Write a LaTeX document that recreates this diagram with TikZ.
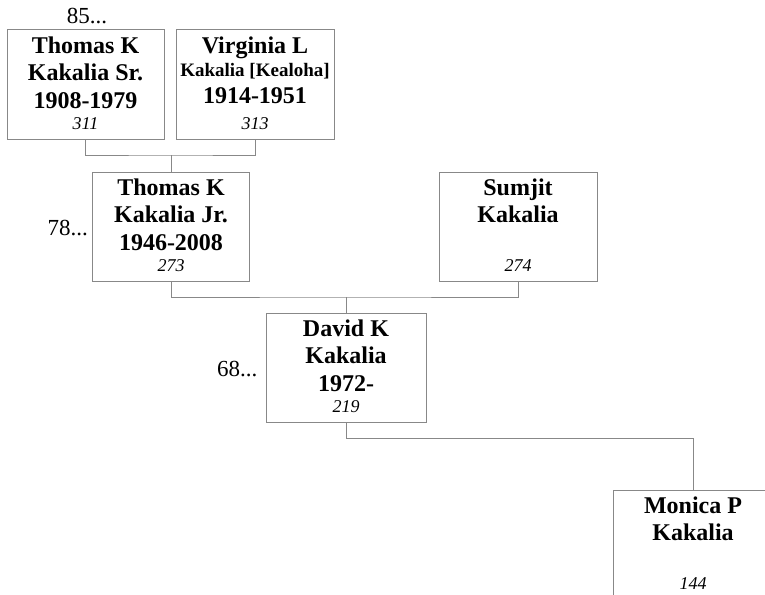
\documentclass[tikz,border=0pt]{standalone}
\usepackage{fontspec}
\setmainfont{Liberation Serif}
\definecolor{linegray}{RGB}{136,136,136}
\newcommand{\bigname}{\fontsize{24}{27.5}\selectfont\bfseries}
\newcommand{\smallname}{\fontsize{19}{23}\selectfont\bfseries}
\newcommand{\idnum}{\fontsize{18}{21}\selectfont\mdseries\itshape}
\newcommand{\cardtext}[2]{\parbox[c][109pt][t]{154pt}{\centering\leavevmode\rule{0pt}{23pt}#1\par\vfill{\idnum\leavevmode\rule[-10pt]{0pt}{10pt}#2\par}\kern0pt}}
\tikzset{
  person/.style={draw=linegray, line width=1pt, inner sep=0pt, fill=white,
    minimum width=158pt, minimum height=109pt},
  conn/.style={draw=linegray, line width=1pt},
  genlabel/.style={inner sep=0pt, font=\fontsize{23}{27}\selectfont}
}
\begin{document}
\begin{tikzpicture}[x=1pt,y=-1pt]
\useasboundingbox (0,0) rectangle (765,594);
\node[person, minimum width=157pt] (b1) at (85.5,84.5) {\cardtext{\bigname Thomas K\par Kakalia Sr.\par 1908-1979}{311}};
\node[person] (b2) at (255,84.5) {\cardtext{\bigname Virginia L\par\smallname Kakalia [Kealoha]\par\bigname 1914-1951}{313}};
\node[person, minimum width=157pt] (b3) at (171,226.5) {\cardtext{\bigname Thomas K\par Kakalia Jr.\par 1946-2008}{273}};
\node[person] (b4) at (518,226.5) {\cardtext{\bigname Sumjit\par Kakalia}{274}};
\node[person, minimum width=160pt] (b5) at (346,367.5) {\cardtext{\bigname David K\par Kakalia\par 1972-}{219}};
\node[person, minimum width=160pt] (b6) at (693,544.5) {\cardtext{\bigname Monica P\par Kakalia}{144}};
\node[genlabel, anchor=base] (l85) at (87,24) {85...};
\node[genlabel, anchor=east] (l78) at ([xshift=-4pt,yshift=-2pt]b3.west) {78...};
\node[genlabel, anchor=east] (l68) at ([xshift=-8pt,yshift=-2pt]b5.west) {68...};
\coordinate (m1) at (171,155);
\coordinate (m2) at (346,297);
\coordinate (m3) at (693,438);
\draw[conn] (b1.south) |- (m1) -| (b2.south);
\draw[conn] (m1) -- (b3.north);
\draw[conn] (b3.south) |- (m2) -| (b4.south);
\draw[conn] (m2) -- (b5.north);
\draw[conn] (b5.south) |- (m3) -- (b6.north);
\end{tikzpicture}
\end{document}
